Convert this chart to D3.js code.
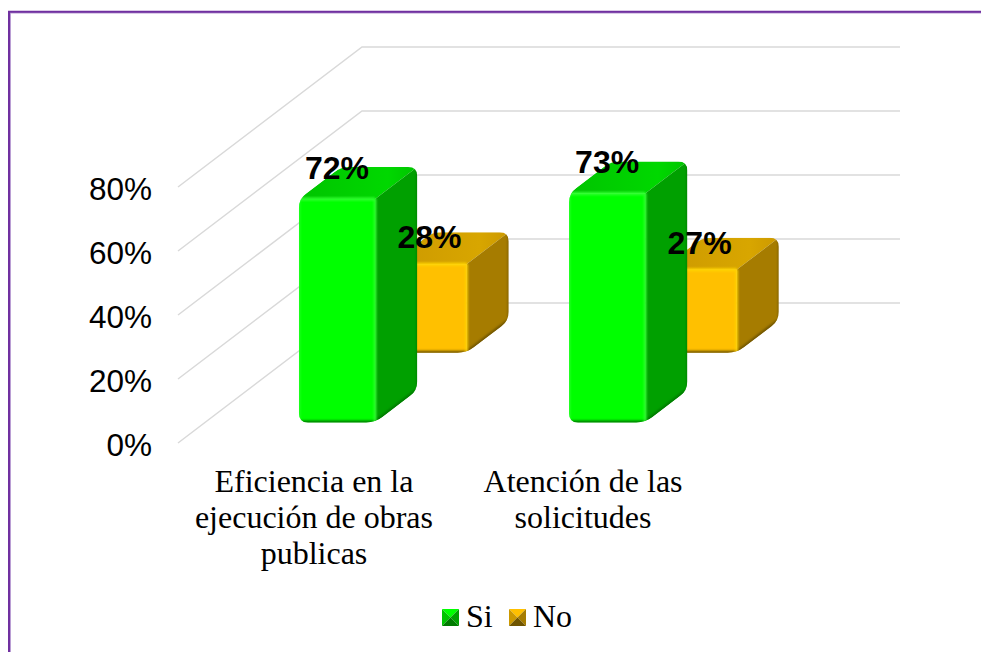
<html>

<head>
  <meta charset="utf8">
  <title>Eficiencia y atención</title>
  <style>
  * {
    margin: 0;
    padding: 0;
  }

  body {
    background: #fff;
  }

  svg {
    display: block;
  }

  .grid {
    fill: none;
    stroke: #d9d9d9;
    stroke-width: 1.5px;
  }

  .tick text {
    font: 31.5px "Liberation Sans", sans-serif;
    fill: #000;
  }

  .category {
    font: 32px "Liberation Serif", serif;
    fill: #000;
    text-anchor: middle;
  }

  .value {
    font: bold 32px "Liberation Sans", sans-serif;
    fill: #000;
    text-anchor: middle;
  }

  .legend {
    font: 32px "Liberation Serif", serif;
    fill: #000;
  }
  </style>
</head>

<body>
  <script src="https://cdn.jsdelivr.net/npm/d3@7"></script>
  <script>

  const categories = [
    ['Eficiencia en la', 'ejecución de obras', 'publicas'],
    ['Atención de las', 'solicitudes']
  ]
  const seriesNames = ['Si', 'No']
  // los rotulos van redondeados, las alturas de las barras dicen un poco mas
  const siValues = [71.6, 73.4]
  const noValues = [28.4, 26.6]
  const tickValues = [0, 20, 40, 60, 80]

  const palette = {
    Si: { front: '#00ff00', side: '#00a000', top: '#00c400', topHi: '#00d800', edge: '#007a00', hi: '#30ff30' },
    No: { front: '#ffc000', side: '#a67c00', top: '#cc9900', topHi: '#d8a600', edge: '#6f5400', hi: '#ffd400' }
  }

  const svg = d3.select('body')
    .append('svg')
    .attr('width', 981)
    .attr('height', 652)

  // marco morado del grafico
  svg.append('path')
    .attr('d', 'M10.2 652V12.8H981')
    .attr('fill', 'none')
    .attr('stroke', '#b79ad2')
    .attr('stroke-width', 1.5)
  svg.append('path')
    .attr('d', 'M9 652V11.8H981')
    .attr('fill', 'none')
    .attr('stroke', '#7030a0')
    .attr('stroke-width', 2)

  const defs = svg.append('defs')
  // userSpaceOnUse: una linea recta tiene bbox vacio y el filtro no pintaria nada
  defs.append('filter').attr('id', 'soft')
    .attr('filterUnits', 'userSpaceOnUse')
    .attr('x', 0).attr('y', 0).attr('width', 981).attr('height', 652)
    .append('feGaussianBlur').attr('stdDeviation', 1)

  // 3d: x horizontal, y valor, z profundidad
  const yAxisScale = d3.scaleLinear().domain([0, 80]).range([443, 187])
  const barHeight = d3.scaleLinear().domain([0, 100]).range([0, 312])
  const depth = d3.scaleLinear().domain([0, 1])
  const depthX = depth.copy().range([0, 184])
  const depthY = depth.copy().range([0, -140])
  const xBand = d3.scaleBand()
    .domain(d3.range(categories.length))
    .range([176, 714])
    .paddingInner(0.718)
    .paddingOuter(0.355)
  const zBand = d3.scaleBand()
    .domain(seriesNames)
    .range([0.01, 1.01])
    .paddingInner(0.54)
    .paddingOuter(0.276)

  function project(x, v, z) {
    return [x + depthX(z), 443 - barHeight(v) + depthY(z)]
  }

  // grid
  svg.append('g')
    .selectAll('path')
    .data(tickValues)
    .enter()
    .append('path')
    .attr('class', 'grid')
    .attr('d', d => {
      const y = yAxisScale(d)
      return `M${178} ${y}L${178 + depthX(1)} ${y + depthY(1)}H900`
    })

  // tick labels
  svg.append('g')
    .attr('transform', 'translate(152,2)')
    .call(d3.axisLeft(yAxisScale).tickValues(tickValues).tickSize(0).tickPadding(0).tickFormat(d => d + '%'))
    .call(g => g.select('.domain').remove())

  function roundedPath(pts, r) {
    let d = ''
    pts.forEach((p, i) => {
      const a = pts[(i + pts.length - 1) % pts.length]
      const b = pts[(i + 1) % pts.length]
      const la = Math.hypot(a[0] - p[0], a[1] - p[1])
      const lb = Math.hypot(b[0] - p[0], b[1] - p[1])
      const p1 = [p[0] + (a[0] - p[0]) * r / la, p[1] + (a[1] - p[1]) * r / la]
      const p2 = [p[0] + (b[0] - p[0]) * r / lb, p[1] + (b[1] - p[1]) * r / lb]
      d += `${i ? 'L' : 'M'}${p1[0]} ${p1[1]}Q${p[0]} ${p[1]} ${p2[0]} ${p2[1]}`
    })
    return d + 'Z'
  }

  const poly = pts => 'M' + pts.map(p => p.join(' ')).join('L') + 'Z'
  const line = pts => 'M' + pts.map(p => p.join(' ')).join('L')

  function drawBar(name, value, catIndex) {
    const c = palette[name]
    const x0 = xBand(catIndex)
    const x1 = x0 + xBand.bandwidth()
    const z0 = zBand(name)
    const z1 = z0 + zBand.bandwidth()

    const fbl = project(x0, 0, z0)
    const fbr = project(x1, 0, z0)
    const ftl = project(x0, value, z0)
    const ftr = project(x1, value, z0)
    const btl = project(x0, value, z1)
    const btr = project(x1, value, z1)
    const bbr = project(x1, 0, z1)

    const id = `clip-${name}-${catIndex}`
    defs.append('clipPath').attr('id', id)
      .append('path')
      .attr('d', roundedPath([fbl, ftl, btl, btr, bbr, fbr], 9))

    const g = svg.append('g').attr('clip-path', `url(#${id})`)

    const gradId = `top-${name}-${catIndex}`
    const grad = defs.append('linearGradient').attr('id', gradId)
      .attr('gradientUnits', 'userSpaceOnUse')
      .attr('x1', ftl[0]).attr('y1', 0).attr('x2', btr[0]).attr('y2', 0)
    grad.append('stop').attr('offset', 0).attr('stop-color', c.top)
    grad.append('stop').attr('offset', 0.75).attr('stop-color', c.topHi)
    grad.append('stop').attr('offset', 1).attr('stop-color', c.top)

    g.append('path').attr('d', poly([ftl, btl, btr, ftr])).attr('fill', `url(#${gradId})`)
    g.append('path').attr('d', poly([ftr, btr, bbr, fbr])).attr('fill', c.side)
    g.append('path').attr('d', poly([fbl, ftl, ftr, fbr])).attr('fill', c.front)

    // biseles
    const bevel = (pts, color, w) => g.append('path')
      .attr('d', line(pts))
      .attr('fill', 'none')
      .attr('stroke', color)
      .attr('stroke-width', w)
      .attr('filter', 'url(#soft)')
    bevel([fbl, fbr], c.edge, 4)
    bevel([fbr, bbr], c.edge, 4)
    bevel([btr, bbr], c.edge, 1.5)
    bevel([ftl, ftr], c.hi, 3)
    bevel([ftr, fbr], c.hi, 2.5)
    bevel([ftl, fbl], c.hi, 2)
  }

  // primero la serie de atras
  categories.forEach((cat, i) => drawBar('No', noValues[i], i))
  categories.forEach((cat, i) => drawBar('Si', siValues[i], i))

  // etiquetas de datos
  const labelGroup = svg.append('g')
  function addLabels(name, values, dx, dy) {
    labelGroup.selectAll(null)
      .data(values)
      .enter()
      .append('text')
      .attr('class', 'value')
      .attr('x', (d, i) => xBand(i) + xBand.bandwidth() / 2 + depthX(zBand(name)) + dx)
      .attr('y', d => 443 - barHeight(d) + depthY(zBand(name)) + dy)
      .text(d => Math.round(d) + '%')
  }
  addLabels('Si', siValues, 0, -20)
  addLabels('No', noValues, 1, -16)

  // categorias
  svg.append('g')
    .selectAll('text')
    .data(categories)
    .enter()
    .append('text')
    .attr('class', 'category')
    .attr('transform', (d, i) => `translate(${xBand(i) + xBand.bandwidth() / 2 + 4 - i},492)`)
    .selectAll('tspan')
    .data(d => d)
    .enter()
    .append('tspan')
    .attr('x', 0)
    .attr('y', (d, i) => i * 36)
    .text(d => d)

  // leyenda
  const legend = svg.append('g')
    .selectAll('g')
    .data(seriesNames)
    .enter()
    .append('g')
    .attr('transform', (d, i) => `translate(${442 + i * 67},609)`)

  legend.each(function(name) {
    const c = palette[name]
    const g = d3.select(this)
    const s = 17
    const mid = [s / 2, s / 2]
    g.append('path').attr('d', poly([[0, 0], [s, 0], mid])).attr('fill', c.front)
    g.append('path').attr('d', poly([[0, 0], [0, s], mid])).attr('fill', c.top)
    g.append('path').attr('d', poly([[s, 0], [s, s], mid])).attr('fill', c.side)
    g.append('path').attr('d', poly([[0, s], [s, s], mid])).attr('fill', c.edge)
  })

  legend.append('text')
    .attr('class', 'legend')
    .attr('x', 24)
    .attr('y', 18)
    .text(d => d)
  </script>
</body>

</html>
